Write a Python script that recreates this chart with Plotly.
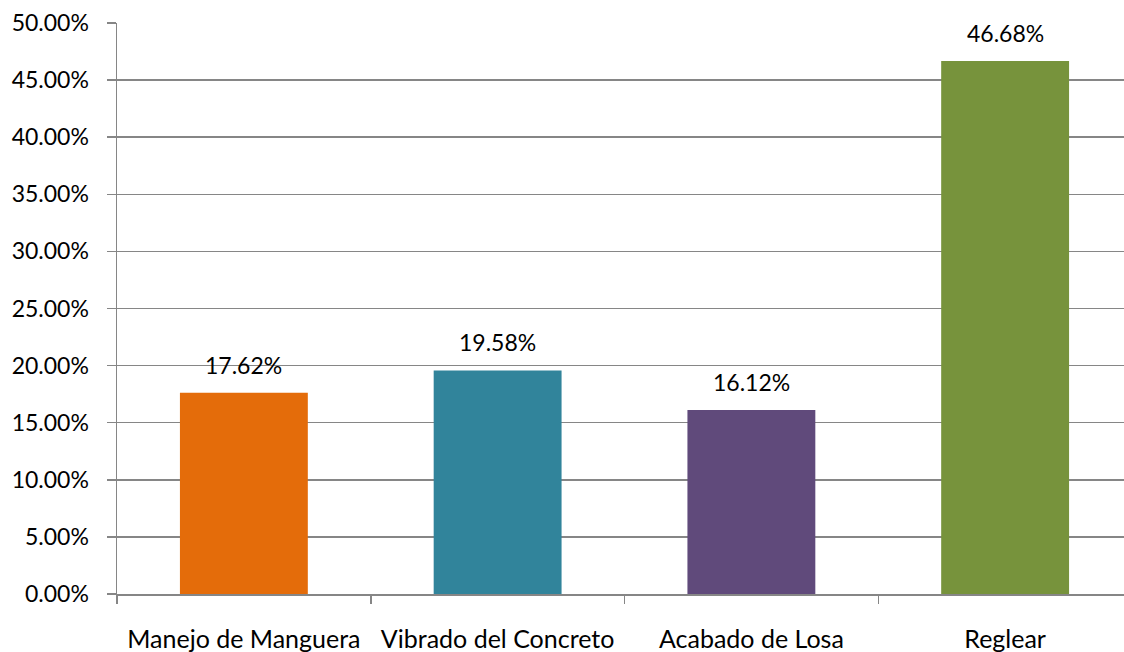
import plotly.graph_objects as go

categories = ["Manejo de Manguera", "Vibrado del Concreto", "Acabado de Losa", "Reglear"]
values = [0.1762, 0.1958, 0.1612, 0.4668]
colors = ["#E46C0A", "#31849B", "#604A7B", "#77933C"]

FONT = "Lato, 'Open Sans', sans-serif"
GRID = "#868686"

fig = go.Figure()
fig.add_trace(go.Bar(x=categories, y=values, marker=dict(color=colors, line=dict(width=0)),
                     hoverinfo="skip"))

for c, v in zip(categories, values):
    fig.add_annotation(x=c, y=v, text=f"{v*100:.2f}%", showarrow=False,
                       yanchor="bottom", yshift=12,
                       font=dict(family=FONT, size=23, color="#000000"))

fig.update_layout(
    width=1132, height=652,
    margin=dict(l=117, r=0, t=23, b=58),
    paper_bgcolor="white", plot_bgcolor="white",
    bargap=0.496,
    showlegend=False,
    font=dict(family=FONT, size=20, color="#000000"),
)
fig.update_xaxes(
    range=[-0.5, 3.5],
    automargin=False,
    showline=True, linecolor=GRID, linewidth=1.5,
    ticks="outside", tickson="boundaries", ticklen=8, tickcolor=GRID, tickwidth=1.5,
    ticklabelstandoff=22,
    showgrid=False,
    tickfont=dict(family=FONT, size=25, color="#000000"),
)
fig.update_yaxes(
    range=[0, 0.5], dtick=0.05, tick0=0, tickformat=".2%",
    automargin=False,
    showline=True, linecolor=GRID, linewidth=1.5,
    showgrid=True, gridcolor=GRID, gridwidth=1.5,
    ticks="outside", ticklen=9, tickcolor=GRID, tickwidth=1.5,
    ticklabelstandoff=13,
    zeroline=False,
    tickfont=dict(family=FONT, size=23, color="#000000"),
)

fig.write_html(
    "out.html",
    config={"displayModeBar": False, "staticPlot": True},
    post_script="document.body.style.margin='0';document.body.style.overflow='hidden';",
)
